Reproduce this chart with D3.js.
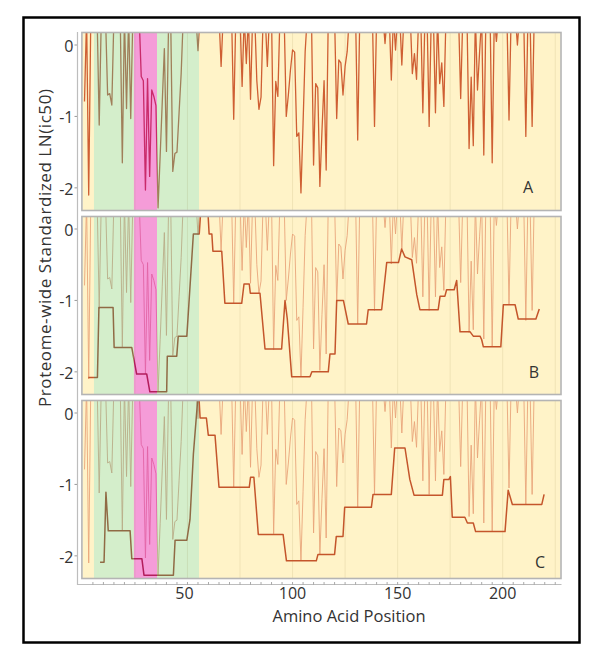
<!DOCTYPE html>
<html><head><meta charset="utf-8">
<script src="https://cdn.jsdelivr.net/npm/d3@7"></script>
<style>body{margin:0;background:#fff}svg{display:block}text{font-family:"Open Sans","Noto Sans",sans-serif;fill:#333}</style>
</head><body><svg id="c" width="600" height="662"></svg>
<script>
// ---------------- data ----------------
const T = 0.4; // above the plotted range (clipped at the top)
const rawScores = [
-0.79,T,-2.1,T,T,T,T,-1.12,T,T, T,-0.7,-0.68,-0.84,T,T,T,T,-1.65,T,
-0.89,T,-1.03,T,T,T,T,-0.44,-0.5,-2.03, -0.47,-1.84,-0.63,-0.72,-0.85,-2.28,-1.55,-0.8,-0.05,-1.49,
0.3,T,-1.77,-1.52,-1.5,-0.95,-0.4,T,T,T, T,T,T,T,-0.08,T,T,T,T,T,
T,T,T,T,T,-0.3,T,T,T,T, T,-1.04,T,T,T,-0.58,T,-0.26,T,-0.76,
T,T,-0.5,-0.9,-0.73,T,T,-0.3,T,T, -1.69,-0.51,-0.72,T,T,T,-1.0,-0.7,-0.35,-0.07,
-0.1,-1.28,-1.23,-2.07,-1.1,-0.09,T,T,T,-1.68, -0.54,-0.6,-1.98,-1.2,-0.5,-1.75,T,T,T,T,
-1.03,-0.21,-0.25,-0.7,-0.3,-0.09,T,T,T,T, -1.33,T,T,T,T,T,T,T,-1.14,T,
T,T,T,0.02,T,T,-0.49,T,-0.07,T, T,-0.28,T,T,T,T,-0.4,-0.12,-0.48,T,
T,-0.95,T,T,-1.14,T,T,-0.95,T,-0.54, -0.25,-0.86,T,T,T,T,T,T,T,-0.75,
T,T,T,-1.45,-0.45,-1.41,T,-0.63,-0.1,T, -1.54,T,T,T,-1.65,T,0.05,T,T,T,
T,T,-1.05,T,T,T,0.0,T,T,T, -1.28,T,T,-1.14,T,T,T,T
];
const stepB = [
[2.8,-2.08],[7.15,-2.08],[7.86,-1.1],[14.6,-1.1],[15.1,-1.66],[23.5,-1.66],[25.8,-2.03],[30.6,-2.03],
[32.1,-2.28],[40.1,-2.28],[40.4,-1.78],[44.9,-1.78],[45.6,-1.5],[49.7,-1.5],[52.8,-0.07],[55.6,-0.07],
[56.2,0.2],[59.8,0.2],[60.3,-0.07],[61.6,-0.07],[62.1,-0.31],[66.3,-0.31],[67.8,-1.04],[75.8,-1.04],
[76.9,-0.77],[79.4,-0.77],[79.9,-0.9],[84.5,-0.9],[86.9,-1.68],[94.8,-1.68],[96.4,-1.0],[97.5,-1.26],
[99.6,-2.07],[108.3,-2.07],[109.2,-2.0],[117,-2.0],[117.8,-1.75],[120.2,-1.75],[121,-1.0],[124.2,-1.0],
[126.5,-1.33],[135.2,-1.33],[136,-1.13],[142.4,-1.13],[144.8,-0.47],[150.4,-0.47],[151.9,-0.28],
[153.5,-0.39],[156.7,-0.43],[159.1,-0.92],[160.6,-1.13],[169.3,-1.13],[170.2,-0.94],[172.5,-0.94],
[173.3,-0.85],[176.9,-0.85],[178.1,-0.72],[179.7,-1.44],[184.5,-1.44],[186,-1.5],[189.2,-1.5],
[190,-1.55],[190.8,-1.65],[199.1,-1.65],[200.3,-1.06],[205.9,-1.06],[207.4,-1.26],[215.8,-1.26],[217.4,-1.12]
];
const stepC = [
[8.4,-2.09],[10.3,-2.09],[11.2,-1.11],[12.3,-1.65],[22.7,-1.65],[23.5,-2.04],[28.3,-2.04],[29.3,-2.27],
[43.3,-2.27],[44.1,-1.78],[49.7,-1.78],[51.2,-1.49],[52.8,-0.58],[54.9,0.2],[55.5,0.2],[56,-0.07],
[59,-0.07],[59.9,-0.31],[63.1,-0.31],[65,-1.04],[79.4,-1.04],[80,-0.9],[81.6,-0.9],[83.7,-1.7],
[95.5,-1.7],[97.1,-2.07],[111.3,-2.07],[112.1,-1.98],[120,-1.98],[120.8,-1.73],[124,-1.73],[124.8,-1.32],
[137.5,-1.32],[138.3,-1.14],[147,-1.14],[148.6,-0.49],[153.5,-0.49],[155.8,-0.93],[157.8,-1.15],
[171.3,-1.15],[172,-0.93],[174.4,-0.93],[175.1,-0.89],[176,-1.46],[182,-1.46],[183.2,-1.54],[186,-1.54],
[187.1,-1.66],[201.1,-1.66],[202.6,-1.08],[204.6,-1.28],[218.6,-1.28],[219.7,-1.14]
];
const bandStart = [5.5, 24.5, 35.5];
const bandEnd   = [24.5, 35.5, 55.5];
const bandKind  = ["green", "pink", "green"];
const panelNames = ["A", "B", "C"];
const yTicks = [0, -1, -2];
const xLabelTicks = [50, 100, 150, 200];
const xGridTicks = [25, 50, 75, 100, 125, 150, 175, 200, 225];
const yTitle = "Proteome-wide Standardized LN(ic50)";
const xTitle = "Amino Acid Position";

// ---------------- layout ----------------
const svg = d3.select("#c");
const X0 = 82.4, X1 = 560.5, DMAX = 227.5;
const panelTops = [33, 217, 401], PH = 177;
const x = d3.scaleLinear().domain([0, DMAX]).range([X0, X1]);
const bg = {yellow: "#fff3c8", green: "#d4eecb", pink: "#f59cd8"};
const styles = {
  rawA:  {w: 1.3, yellow: "#cf5f33", green: "#a07f5a", pink: "#c92a6a"},
  rawBC: {w: 0.9, yellow: "#e9a57b", green: "#b9ad88", pink: "#e264a6"},
  step:  {w: 1.5, yellow: "#c4552b", green: "#906a45", pink: "#b31d5c"}
};
const regions = {yellow: [], green: [], pink: []};
let prev = 0;
bandStart.forEach((s, i) => {
  if (s > prev) regions.yellow.push([prev, s]);
  regions[bandKind[i]].push([s, bandEnd[i]]);
  prev = bandEnd[i];
});
regions.yellow.push([prev, DMAX]);

const defs = svg.append("defs");
const rawPts = rawScores.map((v, i) => [i + 1, v]);

svg.append("rect").attr("x", 23.5).attr("y", 17.5).attr("width", 556).attr("height", 625)
  .attr("fill", "none").attr("stroke", "#000").attr("stroke-width", 2.5);

panelNames.forEach((name, pi) => {
  const top = panelTops[pi];
  const y = d3.scaleLinear().domain([-2.31, 0.168]).range([top + PH, top]);
  const g = svg.append("g");
  g.append("rect").attr("x", X0).attr("y", top).attr("width", X1 - X0).attr("height", PH).attr("fill", bg.yellow);
  bandStart.forEach((s, i) => {
    g.append("rect").attr("x", x(s)).attr("y", top).attr("width", x(bandEnd[i]) - x(s)).attr("height", PH)
      .attr("fill", bg[bandKind[i]]);
  });
  g.selectAll(".grid").data(xGridTicks.filter(t => t < DMAX)).join("line")
    .attr("x1", d => x(d)).attr("x2", d => x(d)).attr("y1", top).attr("y2", top + PH)
    .attr("stroke", "rgba(140,120,60,0.13)").attr("stroke-width", 1);
  Object.keys(regions).forEach(k => {
    const cp = defs.append("clipPath").attr("id", `clip-${name}-${k}`);
    regions[k].forEach(([a, b]) => {
      cp.append("rect").attr("x", x(a)).attr("y", top).attr("width", x(b) - x(a)).attr("height", PH);
    });
  });
  const line = d3.line().x(d => x(d[0])).y(d => y(d[1]));
  const series = pi === 0 ? [[rawPts, styles.rawA]]
    : [[rawPts, styles.rawBC], [pi === 1 ? stepB : stepC, styles.step]];
  series.forEach(([pts, st]) => {
    Object.keys(regions).forEach(k => {
      g.append("path").attr("d", line(pts)).attr("fill", "none")
        .attr("stroke", st[k]).attr("stroke-width", st.w).attr("stroke-linejoin", "round")
        .attr("clip-path", `url(#clip-${name}-${k})`);
    });
  });
  g.append("rect").attr("x", X0 - 0.5).attr("y", top - 0.5).attr("width", X1 - X0 + 1).attr("height", PH + 1)
    .attr("fill", "none").attr("stroke", "#b4b4b4").attr("stroke-width", 1.6);
  yTicks.forEach(t => {
    g.append("line").attr("x1", 74.5).attr("x2", 77.5).attr("y1", y(t)).attr("y2", y(t)).attr("stroke", "#999");
    g.append("text").attr("x", 73.5).attr("y", y(t) + 1).attr("dy", "0.36em").attr("text-anchor", "end")
      .attr("font-size", 16).attr("fill", "#2a2a2a").text(t === 0 ? "0" : "-" + Math.abs(t));
  });
  const lx = [528, 534, 540][pi], ly = [top + 154, top + 155, top + 161][pi];
  g.append("text").attr("x", lx).attr("y", ly).attr("dy", "0.35em").attr("text-anchor", "middle")
    .attr("font-size", 16).attr("fill", "#222").text(name);
});

svg.append("line").attr("x1", 77.5).attr("x2", 77.5).attr("y1", 32).attr("y2", 585)
  .attr("stroke", "#bdbdbd").attr("stroke-width", 1.2);
const xAxisY = 584.5;
svg.append("line").attr("x1", 77).attr("x2", X1 + 1).attr("y1", xAxisY).attr("y2", xAxisY)
  .attr("stroke", "#bdbdbd").attr("stroke-width", 1.2);
const minorX = x.ticks(45).filter(t => t > 0 && t <= DMAX);
svg.selectAll(".xt").data(minorX).join("line")
  .attr("x1", d => x(d)).attr("x2", d => x(d)).attr("y1", xAxisY - 2.5).attr("y2", xAxisY + 0.5)
  .attr("stroke", "#aaa");
svg.selectAll(".xl").data(xLabelTicks).join("text")
  .attr("x", d => x(d) - (d === 50 ? 3 : 0)).attr("y", 599).attr("text-anchor", "middle")
  .attr("font-size", 16).attr("fill", "#2a2a2a").text(d => d);
svg.append("text").attr("x", 349).attr("y", 622).attr("text-anchor", "middle").attr("font-size", 16.5)
  .attr("fill", "#222").text(xTitle);
svg.append("text").attr("transform", "translate(51,248) rotate(-90)").attr("text-anchor", "middle")
  .attr("font-size", 17).attr("textLength", 318).attr("lengthAdjust", "spacing")
  .attr("fill", "#222").text(yTitle);
</script></body></html>
